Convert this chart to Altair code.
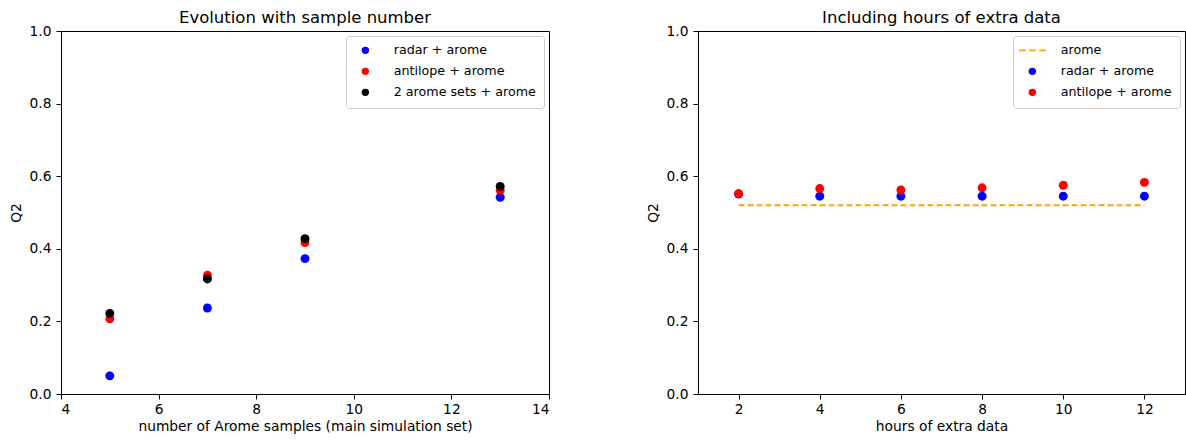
import altair as alt
import pandas as pd

# ---- data ----
left_x = [5, 7, 9, 13]
left_radar = [0.050, 0.237, 0.373, 0.542]
left_antilope = [0.207, 0.327, 0.417, 0.561]
left_two_sets = [0.222, 0.317, 0.428, 0.572]
left_series = ["radar + arome", "antilope + arome", "2 arome sets + arome"]
left_colors = ["#0000ff", "#ff0000", "#000000"]
left_xticks = [4, 6, 8, 10, 12, 14]

right_x = [2, 4, 6, 8, 10, 12]
right_radar = [0.551, 0.545, 0.545, 0.545, 0.545, 0.545]
right_antilope = [0.552, 0.566, 0.562, 0.568, 0.575, 0.583]
right_arome_x = [2, 12]
right_arome = [0.520, 0.520]
right_series = ["arome", "radar + arome", "antilope + arome"]
right_colors = ["#ffa500", "#0000ff", "#ff0000"]
right_xticks = [2, 4, 6, 8, 10, 12]

y_ticks = [0.0, 0.2, 0.4, 0.6, 0.8, 1.0]

# ---- tables ----
left_df = pd.DataFrame(
    [{"x": x, "q2": v, "series": left_series[0]} for x, v in zip(left_x, left_radar)]
    + [{"x": x, "q2": v, "series": left_series[1]} for x, v in zip(left_x, left_antilope)]
    + [{"x": x, "q2": v, "series": left_series[2]} for x, v in zip(left_x, left_two_sets)]
)
right_pts = pd.DataFrame(
    [{"x": x, "q2": v, "series": right_series[1]} for x, v in zip(right_x, right_radar)]
    + [{"x": x, "q2": v, "series": right_series[2]} for x, v in zip(right_x, right_antilope)]
)
right_line = pd.DataFrame({"x": right_arome_x, "q2": right_arome})

FONT = "DejaVu Sans"
W_LEFT, W_RIGHT, H = 488, 487, 363
AX_FS = 13.8
LEG_FS = 12.7

# dashed-line legend symbol (three dashes) for the "arome" entry
DASH_PATH = ("M-3.64,-0.24H-1.75V0.24H-3.64Z "
             "M-0.94,-0.24H0.95V0.24H-0.94Z "
             "M1.76,-0.24H3.65V0.24H1.76Z")

def legend():
    return alt.Legend(
        title=None, orient="top-right", offset=5,
        fillColor="white", strokeColor="#cccccc", cornerRadius=3,
        padding=8, symbolOffset=5, labelOffset=22, rowPadding=7,
        symbolSize=55, labelFontSize=LEG_FS, labelFont=FONT, labelColor="black",
        symbolStrokeWidth=0,
    )

def yaxis():
    return alt.Axis(values=y_ticks, format=".1f", title="Q2", grid=False,
                    tickSize=5, labelPadding=5, titlePadding=6)

def xaxis(ticks, title):
    return alt.Axis(values=ticks, format="d", title=title, grid=False,
                    tickSize=5, labelPadding=3, titlePadding=4)

left = alt.Chart(left_df).mark_point(filled=True, size=80, opacity=1).encode(
    x=alt.X("x:Q", scale=alt.Scale(domain=[4, 14], nice=False, zero=False),
            axis=xaxis(left_xticks, "number of Arome samples (main simulation set)")),
    y=alt.Y("q2:Q", scale=alt.Scale(domain=[0, 1], nice=False), axis=yaxis()),
    color=alt.Color("series:N", scale=alt.Scale(domain=left_series, range=left_colors),
                    sort=left_series, legend=legend()),
).properties(width=W_LEFT, height=H, title="Evolution with sample number")

line = alt.Chart(right_line).mark_line(strokeDash=[6, 3], strokeWidth=1.8).encode(
    x=alt.X("x:Q"),
    y=alt.Y("q2:Q"),
    color=alt.value("#ffa500"),
)
pts = alt.Chart(right_pts).mark_point(filled=True, size=80, opacity=1).encode(
    x=alt.X("x:Q", scale=alt.Scale(domain=[1, 13], nice=False, zero=False),
            axis=xaxis(right_xticks, "hours of extra data")),
    y=alt.Y("q2:Q", scale=alt.Scale(domain=[0, 1], nice=False), axis=yaxis()),
    color=alt.Color("series:N", scale=alt.Scale(domain=right_series, range=right_colors),
                    sort=right_series, legend=legend()),
    shape=alt.Shape("series:N",
                    scale=alt.Scale(domain=right_series, range=[DASH_PATH, "circle", "circle"]),
                    sort=right_series, legend=legend()),
)
right = alt.layer(line, pts).properties(width=W_RIGHT, height=H,
                                        title="Including hours of extra data")

chart = alt.hconcat(left, right, spacing=95).resolve_scale(
    color="independent", shape="independent"
).resolve_legend(color="independent", shape="independent").properties(
    padding={"left": 8, "top": 9, "right": 0, "bottom": 0}
).configure(font=FONT).configure_view(
    stroke="black", strokeWidth=1
).configure_axis(
    domainColor="black", tickColor="black", labelColor="black", titleColor="black",
    labelFontSize=AX_FS, titleFontSize=AX_FS, titleFontWeight="normal",
    labelFont=FONT, titleFont=FONT, domainWidth=1, tickWidth=1,
).configure_title(
    fontSize=16.5, fontWeight="normal", font=FONT, color="black", offset=-2
)

chart.save("out.html", embed_options={"renderer": "svg", "actions": False})
